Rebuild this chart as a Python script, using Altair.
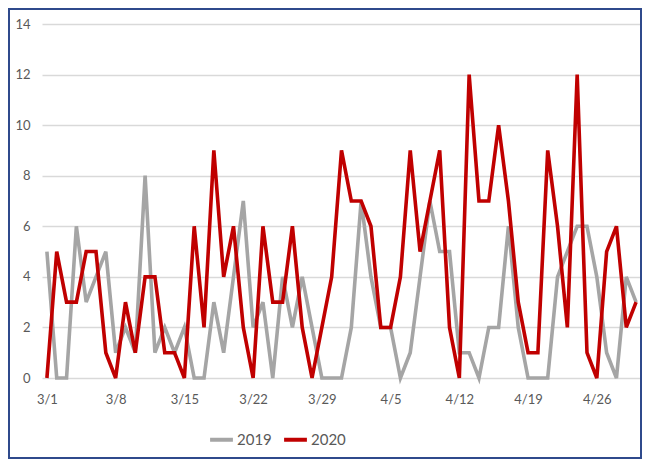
import altair as alt
import pandas as pd

dates = [f"{d.month}/{d.day}" for d in pd.date_range("2020-03-01", "2020-04-30")]

s2019 = [5, 0, 0, 6, 3, 4, 5, 1, 2, 1, 8, 1, 2, 1, 2, 0, 0, 3,
         1, 4, 7, 2, 3, 0, 4, 2, 4, 2, 0, 0, 0, 2, 7, 4, 2, 2, 0, 1,
         4, 7, 5, 5, 1, 1, 0, 2, 2, 6, 2, 0, 0, 0, 4, 5, 6, 6, 4, 1, 0, 4, 3]
s2020 = [0, 5, 3, 3, 5, 5, 1, 0, 3, 1, 4, 4, 1, 1, 0, 6, 2, 9,
         4, 6, 2, 0, 6, 3, 3, 6, 2, 0, 2, 4, 9, 7, 7, 6, 2, 2, 4, 9,
         5, 7, 9, 2, 0, 12, 7, 7, 10, 7, 3, 1, 1, 9, 6, 2, 12, 1, 0, 5, 6, 2, 3]

series = ["2019", "2020"]
colors = ["#A5A5A5", "#C00000"]
tick_days = list(range(0, 61, 7))
tick_labels = [dates[i] for i in tick_days]
y_ticks = list(range(0, 15, 2))

rows = []
for name, vals in zip(series, [s2019, s2020]):
    for i, v in enumerate(vals):
        rows.append({"day": i, "date": dates[i], "year": name, "value": v})
df = pd.DataFrame(rows)

FONT = "Lato, sans-serif"
W, H = 599, 354
label_js = "[" + ",".join(f"'{t}'" for t in tick_labels) + "][round(datum.value/7)]"

lines = alt.Chart(df).mark_line(strokeWidth=3.6).encode(
    x=alt.X("day:Q",
            scale=alt.Scale(domain=[-0.5, 60.5], nice=False, zero=False),
            axis=alt.Axis(values=tick_days, labelExpr=label_js, grid=False, ticks=False,
                          domain=False, labelPadding=15, labelFontSize=13,
                          labelColor="#595959", labelFont=FONT, title=None)),
    y=alt.Y("value:Q",
            scale=alt.Scale(domain=[0, 14], nice=False),
            axis=alt.Axis(values=y_ticks, grid=True, gridColor="#D9D9D9", gridWidth=1.3,
                          ticks=False, domain=False, labelPadding=12, labelFontSize=13,
                          labelColor="#595959", labelFont=FONT, title=None)),
    color=alt.Color("year:N",
                    scale=alt.Scale(domain=series, range=colors),
                    legend=alt.Legend(orient="none", legendX=166, legendY=402,
                                      direction="horizontal", title=None,
                                      symbolType="stroke", symbolStrokeWidth=4,
                                      symbolSize=520, labelFontSize=15,
                                      labelColor="#595959", labelFont=FONT,
                                      columnPadding=4, labelOffset=2, padding=0)),
    order=alt.Order("day:Q"),
)

border = alt.Chart(pd.DataFrame({"a": [0]})).mark_rect(
    fillOpacity=0, stroke="#2F4A8C", strokeWidth=2
).encode(
    x=alt.value(-33), x2=alt.value(W), y=alt.value(-15), y2=alt.value(H + 80)
)

chart = alt.layer(border, lines).properties(
    width=W, height=H,
    padding={"left": 34, "top": 16, "right": 1, "bottom": 81},
    autosize=alt.AutoSizeParams(type="none"),
).configure_view(stroke=None)

chart.save("out.html", embed_options={"renderer": "svg", "actions": False})
